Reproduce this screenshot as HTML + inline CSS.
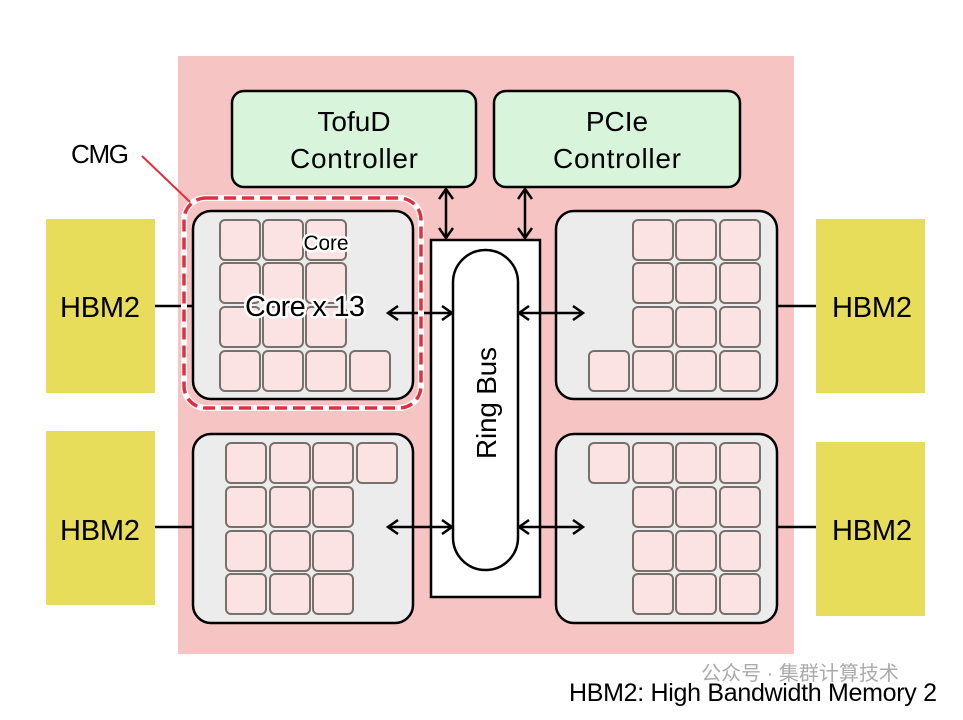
<!DOCTYPE html>
<html><head><meta charset="utf-8"><style>
body{margin:0;background:#fff}
svg text{font-family:"Liberation Sans","Noto Sans CJK SC",sans-serif}
</style></head><body>
<svg width="963" height="715" viewBox="0 0 963 715" xmlns="http://www.w3.org/2000/svg">
<defs>
<marker id="a" viewBox="0 0 16 16" refX="14" refY="8" markerWidth="16" markerHeight="16" markerUnits="userSpaceOnUse" orient="auto-start-reverse"><path d="M4,1 L14,8 L4,15" fill="none" stroke="#000" stroke-width="2.5"/></marker>
</defs>
<rect x="178" y="56" width="616" height="598" fill="#f7c4c4"/>
<g fill="#e8dd5a">
<rect x="46" y="219" width="109" height="174"/><rect x="46" y="431" width="109" height="174"/>
<rect x="816" y="219" width="109" height="174"/><rect x="816" y="442" width="109" height="174"/>
</g>
<g font-size="29" text-anchor="middle" fill="#000">
<text x="100" y="317" textLength="80">HBM2</text><text x="100" y="540" textLength="80">HBM2</text>
<text x="872" y="317" textLength="80">HBM2</text><text x="872" y="540" textLength="80">HBM2</text>
</g>
<g stroke="#000" stroke-width="2.5">
<line x1="155" y1="306" x2="193" y2="306"/><line x1="155" y1="527" x2="193" y2="527"/>
<line x1="777" y1="306" x2="816" y2="306"/><line x1="777" y1="527" x2="816" y2="527"/>
</g>
<g fill="#d8f5dc" stroke="#000" stroke-width="2.5">
<rect x="232" y="91" width="244" height="96" rx="12"/><rect x="494" y="91" width="246" height="96" rx="12"/>
</g>
<g font-size="28" text-anchor="middle">
<text x="354" y="131">TofuD</text><text x="354" y="168" textLength="128">Controller</text>
<text x="617" y="131">PCIe</text><text x="617" y="168" textLength="128">Controller</text>
</g>
<g fill="#ececec" stroke="#000" stroke-width="2.5">
<rect x="193" y="211" width="220" height="188" rx="18"/><rect x="556" y="211" width="221" height="188" rx="18"/>
<rect x="193" y="434" width="220" height="189" rx="18"/><rect x="556" y="434" width="221" height="189" rx="18"/>
</g>
<g fill="#fbe3e3" stroke="#77716b" stroke-width="2">
<rect x="220" y="220" width="40" height="40" rx="5"/><rect x="263" y="220" width="40" height="40" rx="5"/><rect x="306" y="220" width="40" height="40" rx="5"/>
<rect x="220" y="263" width="40" height="40" rx="5"/><rect x="263" y="263" width="40" height="40" rx="5"/><rect x="306" y="263" width="40" height="40" rx="5"/>
<rect x="220" y="307" width="40" height="40" rx="5"/><rect x="263" y="307" width="40" height="40" rx="5"/><rect x="306" y="307" width="40" height="40" rx="5"/>
<rect x="220" y="351" width="40" height="40" rx="5"/><rect x="263" y="351" width="40" height="40" rx="5"/><rect x="306" y="351" width="40" height="40" rx="5"/><rect x="350" y="351" width="40" height="40" rx="5"/>
<rect x="633" y="220" width="40" height="40" rx="5"/><rect x="676" y="220" width="40" height="40" rx="5"/><rect x="720" y="220" width="40" height="40" rx="5"/>
<rect x="633" y="263" width="40" height="40" rx="5"/><rect x="676" y="263" width="40" height="40" rx="5"/><rect x="720" y="263" width="40" height="40" rx="5"/>
<rect x="633" y="307" width="40" height="40" rx="5"/><rect x="676" y="307" width="40" height="40" rx="5"/><rect x="720" y="307" width="40" height="40" rx="5"/>
<rect x="589" y="351" width="40" height="40" rx="5"/><rect x="633" y="351" width="40" height="40" rx="5"/><rect x="676" y="351" width="40" height="40" rx="5"/><rect x="720" y="351" width="40" height="40" rx="5"/>
<rect x="226" y="443" width="40" height="40" rx="5"/><rect x="270" y="443" width="40" height="40" rx="5"/><rect x="313" y="443" width="40" height="40" rx="5"/><rect x="357" y="443" width="40" height="40" rx="5"/>
<rect x="226" y="487" width="40" height="40" rx="5"/><rect x="270" y="487" width="40" height="40" rx="5"/><rect x="313" y="487" width="40" height="40" rx="5"/>
<rect x="226" y="531" width="40" height="40" rx="5"/><rect x="270" y="531" width="40" height="40" rx="5"/><rect x="313" y="531" width="40" height="40" rx="5"/>
<rect x="226" y="574" width="40" height="40" rx="5"/><rect x="270" y="574" width="40" height="40" rx="5"/><rect x="313" y="574" width="40" height="40" rx="5"/>
<rect x="589" y="443" width="40" height="40" rx="5"/><rect x="633" y="443" width="40" height="40" rx="5"/><rect x="676" y="443" width="40" height="40" rx="5"/><rect x="720" y="443" width="40" height="40" rx="5"/>
<rect x="633" y="487" width="40" height="40" rx="5"/><rect x="676" y="487" width="40" height="40" rx="5"/><rect x="720" y="487" width="40" height="40" rx="5"/>
<rect x="633" y="531" width="40" height="40" rx="5"/><rect x="676" y="531" width="40" height="40" rx="5"/><rect x="720" y="531" width="40" height="40" rx="5"/>
<rect x="633" y="574" width="40" height="40" rx="5"/><rect x="676" y="574" width="40" height="40" rx="5"/><rect x="720" y="574" width="40" height="40" rx="5"/>
</g>
<rect x="431" y="240" width="109" height="357" fill="#fff" stroke="#000" stroke-width="2.5"/>
<rect x="453" y="250" width="65" height="320" rx="32.5" fill="#fff" stroke="#000" stroke-width="2.5"/>
<text transform="translate(496,403) rotate(-90)" font-size="28" text-anchor="middle" textLength="112">Ring Bus</text>
<g stroke="#000" stroke-width="2.5" marker-start="url(#a)" marker-end="url(#a)">
<line x1="446" y1="189" x2="446" y2="238"/><line x1="525" y1="189" x2="525" y2="238"/>
<line x1="388" y1="313" x2="452" y2="313"/><line x1="519" y1="313" x2="583" y2="313"/>
<line x1="388" y1="527" x2="452" y2="527"/><line x1="519" y1="527" x2="583" y2="527"/>
</g>
<rect x="184" y="198" width="237" height="210" rx="22" fill="none" stroke="#fff" stroke-width="6"/>
<rect x="184" y="198" width="237" height="210" rx="22" fill="none" stroke="#e03040" stroke-width="3.5" stroke-dasharray="12,6"/>
<line x1="142" y1="156" x2="190" y2="202" stroke="#e03040" stroke-width="2"/>
<text x="100" y="163" font-size="26" text-anchor="middle" textLength="58">CMG</text>
<g stroke="#fff" stroke-width="5" paint-order="stroke" stroke-linejoin="round">
<text x="326" y="250" font-size="21" text-anchor="middle" textLength="45">Core</text>
<text x="305" y="316" font-size="29" text-anchor="middle" textLength="120">Core x 13</text>
</g>
<text x="800" y="680" font-size="20" text-anchor="middle" fill="#aaa">公众号 · 集群计算技术</text>
<text x="937" y="701" font-size="25" text-anchor="end" textLength="368">HBM2: High Bandwidth Memory 2</text>
</svg>
</body></html>
